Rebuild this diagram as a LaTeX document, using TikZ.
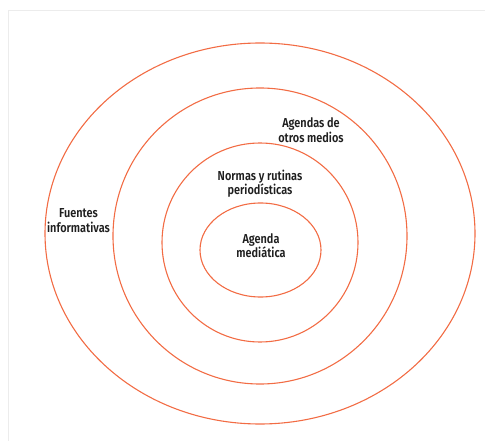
\documentclass[tikz,border=0pt]{standalone}
\usepackage{fontspec}
\setmainfont{Fira Sans}[UprightFont=* SemiBold, FakeStretch=0.84]
\definecolor{ring}{RGB}{242,108,68}
\definecolor{frame}{RGB}{236,236,236}
\begin{document}
\begin{tikzpicture}[x=1pt,y=-1pt,
  ringline/.style={draw=ring, line width=1.1pt},
  lbl/.style={align=center, font=\fontsize{13}{14.5}\selectfont, text=black!88, inner sep=0pt}]
\useasboundingbox (0,0) rectangle (485,441);
\draw[frame, line width=1pt] (8.5,441) -- (8.5,10.5) -- (485,10.5);
\draw[ringline] (260,233.5) ellipse [x radius=215, y radius=190.5];
\draw[ringline] (260,236) ellipse [x radius=147, y radius=148];
\draw[ringline] (260,242.5) ellipse [x radius=98, y radius=99.5];
\draw[ringline] (260.5,250) ellipse [x radius=60.5, y radius=47];
\node[lbl] (otros) at (311,130) {Agendas de\\otros medios};
\node[lbl] (normas) at (260,183.5) {Normas y rutinas\\periodísticas};
\node[lbl] (fuentes) at (78.5,220.5) {Fuentes\\informativas};
\node[lbl] (agenda) at (261,245.5) {Agenda\\mediática};
\end{tikzpicture}
\end{document}
